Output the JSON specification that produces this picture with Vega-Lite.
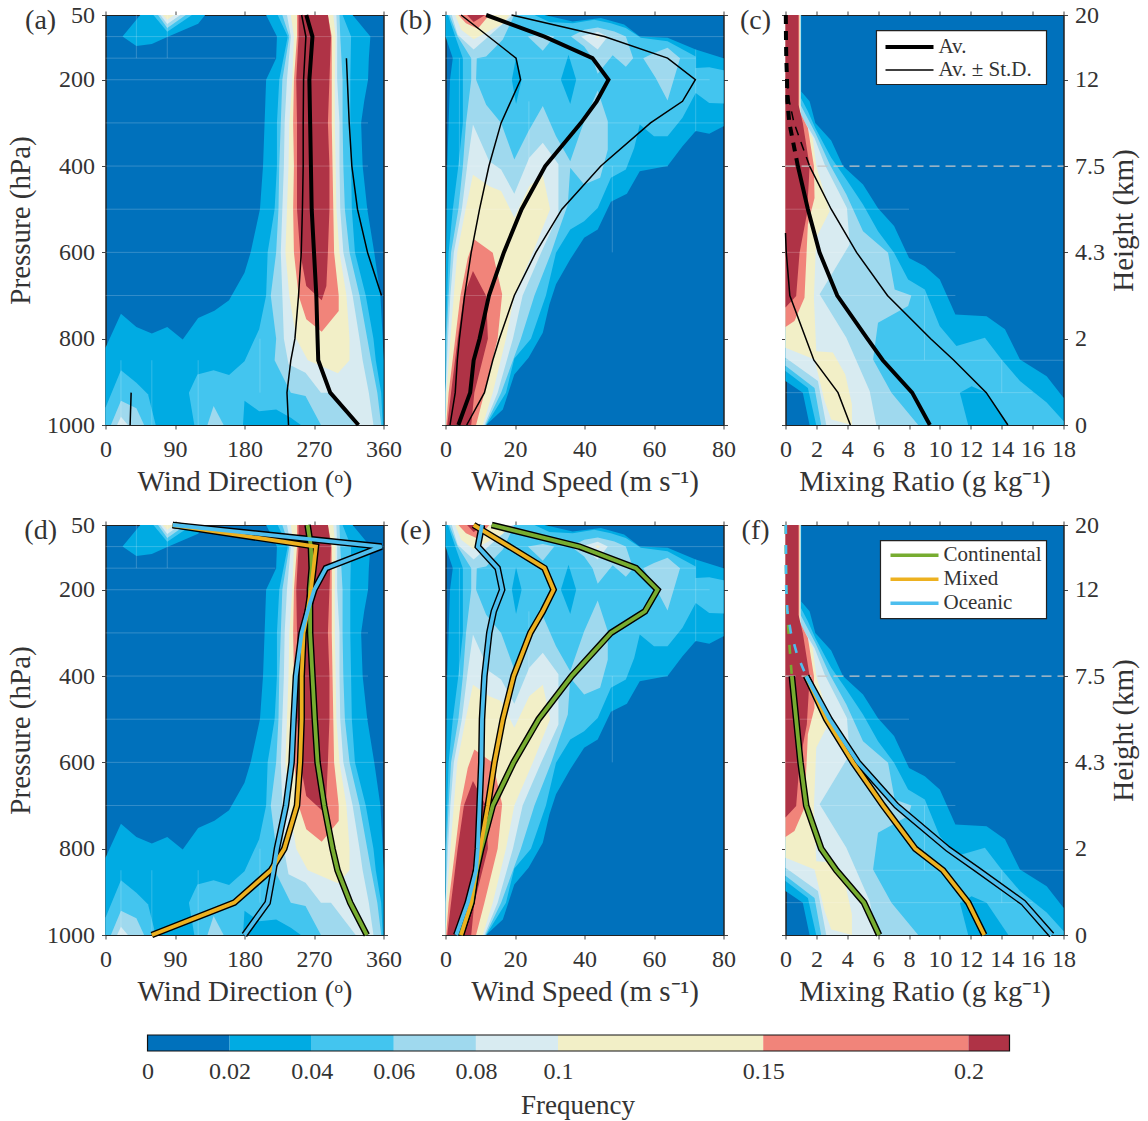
{"$schema":"https://vega.github.io/schema/vega-lite/v6.json","padding":{"left":5.5,"top":2,"right":5,"bottom":5},"background":"white",
"config":{"font":"Liberation Serif","view":{"stroke":null},"axis":{"labelFont":"Liberation Serif","titleFont":"Liberation Serif","labelFontSize":24,"titleFontSize":29,"titleFontWeight":"normal","labelColor":"#333","titleColor":"#333","tickColor":"#444","domainColor":"#222","domainWidth":1,"grid":false,"tickSize":4,"labelFlush":false,"labelOverlap":false,"format":"d"},"axisX":{"labelPadding":8,"titlePadding":6},"axisY":{"labelPadding":7,"titlePadding":11.5}},
"datasets":{
"dir":[{"g":"a","f":1,"x":208,"p":50},{"g":"a","f":1,"x":320,"p":50},{"g":"a","f":1,"x":343,"p":100},{"g":"a","f":1,"x":341,"p":150},{"g":"a","f":1,"x":340,"p":200},{"g":"a","f":1,"x":335,"p":250},{"g":"a","f":1,"x":331,"p":300},{"g":"a","f":1,"x":333,"p":400},{"g":"a","f":1,"x":339,"p":500},{"g":"a","f":1,"x":348,"p":600},{"g":"a","f":1,"x":356,"p":700},{"g":"a","f":1,"x":359,"p":800},{"g":"a","f":1,"x":360,"p":850},{"g":"a","f":1,"x":360,"p":1000},{"g":"a","f":1,"x":0,"p":1000},{"g":"a","f":1,"x":0,"p":821},{"g":"a","f":1,"x":20,"p":742},{"g":"a","f":1,"x":40,"p":773},{"g":"a","f":1,"x":60,"p":788},{"g":"a","f":1,"x":80,"p":773},{"g":"a","f":1,"x":100,"p":802},{"g":"a","f":1,"x":120,"p":752},{"g":"a","f":1,"x":141,"p":735},{"g":"a","f":1,"x":160,"p":711},{"g":"a","f":1,"x":180,"p":647},{"g":"a","f":1,"x":188,"p":600},{"g":"a","f":1,"x":200,"p":500},{"g":"a","f":1,"x":204,"p":400},{"g":"a","f":1,"x":206,"p":300},{"g":"a","f":1,"x":208,"p":200},{"g":"a","f":1,"x":221,"p":150},{"g":"a","f":1,"x":222,"p":100},
{"g":"b","f":1,"x":45,"p":50},{"g":"b","f":1,"x":22,"p":100},{"g":"b","f":1,"x":40,"p":122},{"g":"b","f":1,"x":60,"p":117},{"g":"b","f":1,"x":80,"p":101},{"g":"b","f":1,"x":120,"p":70},{"g":"b","f":1,"x":129,"p":50},
{"g":"c","f":2,"x":223,"p":50},{"g":"c","f":2,"x":236,"p":100},{"g":"c","f":2,"x":225,"p":200},{"g":"c","f":2,"x":222,"p":300},{"g":"c","f":2,"x":222,"p":400},{"g":"c","f":2,"x":219,"p":500},{"g":"c","f":2,"x":210,"p":600},{"g":"c","f":2,"x":208,"p":700},{"g":"c","f":2,"x":199,"p":778},{"g":"c","f":2,"x":180,"p":852},{"g":"c","f":2,"x":160,"p":884},{"g":"c","f":2,"x":140,"p":873},{"g":"c","f":2,"x":119,"p":883},{"g":"c","f":2,"x":108,"p":925},{"g":"c","f":2,"x":115,"p":1000},{"g":"c","f":2,"x":178,"p":1000},{"g":"c","f":2,"x":180,"p":944},{"g":"c","f":2,"x":199,"p":968},{"g":"c","f":2,"x":221,"p":964},{"g":"c","f":2,"x":240,"p":983},{"g":"c","f":2,"x":253,"p":1000},{"g":"c","f":2,"x":359,"p":1000},{"g":"c","f":2,"x":357,"p":925},{"g":"c","f":2,"x":350,"p":850},{"g":"c","f":2,"x":347,"p":800},{"g":"c","f":2,"x":337,"p":700},{"g":"c","f":2,"x":323,"p":600},{"g":"c","f":2,"x":319,"p":500},{"g":"c","f":2,"x":318,"p":400},{"g":"c","f":2,"x":317,"p":300},{"g":"c","f":2,"x":317,"p":200},{"g":"c","f":2,"x":318,"p":100},{"g":"c","f":2,"x":307,"p":50},
{"g":"d","f":2,"x":0,"p":960},{"g":"d","f":2,"x":20,"p":873},{"g":"d","f":2,"x":40,"p":902},{"g":"d","f":2,"x":55,"p":929},{"g":"d","f":2,"x":65,"p":1000},{"g":"d","f":2,"x":0,"p":1000},
{"g":"e","f":2,"x":62,"p":50},{"g":"e","f":2,"x":80,"p":89},{"g":"e","f":2,"x":112,"p":50},
{"g":"f","f":3,"x":229,"p":50},{"g":"f","f":3,"x":238,"p":100},{"g":"f","f":3,"x":229,"p":200},{"g":"f","f":3,"x":227,"p":300},{"g":"f","f":3,"x":225,"p":400},{"g":"f","f":3,"x":224,"p":500},{"g":"f","f":3,"x":221,"p":600},{"g":"f","f":3,"x":214,"p":700},{"g":"f","f":3,"x":221,"p":800},{"g":"f","f":3,"x":219,"p":850},{"g":"f","f":3,"x":240,"p":925},{"g":"f","f":3,"x":259,"p":933},{"g":"f","f":3,"x":279,"p":1000},{"g":"f","f":3,"x":357,"p":1000},{"g":"f","f":3,"x":352,"p":925},{"g":"f","f":3,"x":344,"p":850},{"g":"f","f":3,"x":339,"p":800},{"g":"f","f":3,"x":329,"p":700},{"g":"f","f":3,"x":316,"p":600},{"g":"f","f":3,"x":310,"p":500},{"g":"f","f":3,"x":308,"p":400},{"g":"f","f":3,"x":307,"p":300},{"g":"f","f":3,"x":307,"p":200},{"g":"f","f":3,"x":304,"p":100},{"g":"f","f":3,"x":303,"p":50},
{"g":"g","f":3,"x":7,"p":1000},{"g":"g","f":3,"x":20,"p":944},{"g":"g","f":3,"x":40,"p":961},{"g":"g","f":3,"x":50,"p":1000},
{"g":"h","f":3,"x":132,"p":1000},{"g":"h","f":3,"x":140,"p":956},{"g":"h","f":3,"x":153,"p":1000},
{"g":"i","f":3,"x":68,"p":50},{"g":"i","f":3,"x":80,"p":80},{"g":"i","f":3,"x":104,"p":50},
{"g":"j","f":4,"x":235,"p":50},{"g":"j","f":4,"x":240,"p":100},{"g":"j","f":4,"x":235,"p":200},{"g":"j","f":4,"x":232,"p":300},{"g":"j","f":4,"x":231,"p":400},{"g":"j","f":4,"x":229,"p":500},{"g":"j","f":4,"x":227,"p":600},{"g":"j","f":4,"x":229,"p":700},{"g":"j","f":4,"x":231,"p":800},{"g":"j","f":4,"x":237,"p":859},{"g":"j","f":4,"x":259,"p":879},{"g":"j","f":4,"x":279,"p":925},{"g":"j","f":4,"x":292,"p":925},{"g":"j","f":4,"x":324,"p":1000},{"g":"j","f":4,"x":347,"p":1000},{"g":"j","f":4,"x":341,"p":925},{"g":"j","f":4,"x":333,"p":850},{"g":"j","f":4,"x":329,"p":800},{"g":"j","f":4,"x":320,"p":700},{"g":"j","f":4,"x":308,"p":600},{"g":"j","f":4,"x":304,"p":500},{"g":"j","f":4,"x":303,"p":400},{"g":"j","f":4,"x":303,"p":300},{"g":"j","f":4,"x":300,"p":200},{"g":"j","f":4,"x":300,"p":100},{"g":"j","f":4,"x":299,"p":50},
{"g":"k","f":4,"x":15,"p":1000},{"g":"k","f":4,"x":20,"p":981},{"g":"k","f":4,"x":29,"p":1000},
{"g":"l","f":4,"x":71,"p":50},{"g":"l","f":4,"x":80,"p":71},{"g":"l","f":4,"x":97,"p":50},
{"g":"m","f":5,"x":240,"p":50},{"g":"m","f":5,"x":244,"p":100},{"g":"m","f":5,"x":242,"p":200},{"g":"m","f":5,"x":238,"p":300},{"g":"m","f":5,"x":237,"p":400},{"g":"m","f":5,"x":235,"p":500},{"g":"m","f":5,"x":233,"p":600},{"g":"m","f":5,"x":238,"p":700},{"g":"m","f":5,"x":247,"p":800},{"g":"m","f":5,"x":262,"p":850},{"g":"m","f":5,"x":301,"p":880},{"g":"m","f":5,"x":316,"p":850},{"g":"m","f":5,"x":316,"p":800},{"g":"m","f":5,"x":312,"p":700},{"g":"m","f":5,"x":303,"p":600},{"g":"m","f":5,"x":299,"p":500},{"g":"m","f":5,"x":298,"p":400},{"g":"m","f":5,"x":297,"p":300},{"g":"m","f":5,"x":297,"p":200},{"g":"m","f":5,"x":298,"p":100},{"g":"m","f":5,"x":295,"p":50},
{"g":"n","f":5,"x":74,"p":50},{"g":"n","f":5,"x":80,"p":61},{"g":"n","f":5,"x":89,"p":50},
{"g":"o","f":6,"x":248,"p":50},{"g":"o","f":6,"x":248,"p":100},{"g":"o","f":6,"x":244,"p":200},{"g":"o","f":6,"x":243,"p":300},{"g":"o","f":6,"x":244,"p":400},{"g":"o","f":6,"x":243,"p":500},{"g":"o","f":6,"x":244,"p":600},{"g":"o","f":6,"x":250,"p":700},{"g":"o","f":6,"x":260,"p":755},{"g":"o","f":6,"x":280,"p":784},{"g":"o","f":6,"x":302,"p":736},{"g":"o","f":6,"x":302,"p":700},{"g":"o","f":6,"x":296,"p":600},{"g":"o","f":6,"x":295,"p":500},{"g":"o","f":6,"x":294,"p":400},{"g":"o","f":6,"x":293,"p":300},{"g":"o","f":6,"x":293,"p":200},{"g":"o","f":6,"x":293,"p":100},{"g":"o","f":6,"x":288,"p":50},
{"g":"p","f":7,"x":250,"p":50},{"g":"p","f":7,"x":250,"p":100},{"g":"p","f":7,"x":247,"p":200},{"g":"p","f":7,"x":248,"p":300},{"g":"p","f":7,"x":248,"p":400},{"g":"p","f":7,"x":248,"p":500},{"g":"p","f":7,"x":252,"p":600},{"g":"p","f":7,"x":260,"p":678},{"g":"p","f":7,"x":280,"p":711},{"g":"p","f":7,"x":286,"p":678},{"g":"p","f":7,"x":288,"p":600},{"g":"p","f":7,"x":290,"p":500},{"g":"p","f":7,"x":290,"p":400},{"g":"p","f":7,"x":288,"p":300},{"g":"p","f":7,"x":290,"p":200},{"g":"p","f":7,"x":292,"p":100},{"g":"p","f":7,"x":288,"p":50}],
"spd":[{"g":"a","f":1,"x":0,"p":50},{"g":"a","f":1,"x":28.5,"p":50},{"g":"a","f":1,"x":36.6,"p":65},{"g":"a","f":1,"x":44.7,"p":57},{"g":"a","f":1,"x":51.4,"p":72},{"g":"a","f":1,"x":55.9,"p":100},{"g":"a","f":1,"x":63.9,"p":103},{"g":"a","f":1,"x":72,"p":130},{"g":"a","f":1,"x":80,"p":150},{"g":"a","f":1,"x":80,"p":308},{"g":"a","f":1,"x":75.9,"p":325},{"g":"a","f":1,"x":72,"p":319},{"g":"a","f":1,"x":68.2,"p":354},{"g":"a","f":1,"x":63.9,"p":400},{"g":"a","f":1,"x":55.9,"p":412},{"g":"a","f":1,"x":52.2,"p":464},{"g":"a","f":1,"x":47.6,"p":483},{"g":"a","f":1,"x":43.8,"p":547},{"g":"a","f":1,"x":39.9,"p":566},{"g":"a","f":1,"x":35.9,"p":616},{"g":"a","f":1,"x":31.8,"p":674},{"g":"a","f":1,"x":29.9,"p":721},{"g":"a","f":1,"x":28,"p":786},{"g":"a","f":1,"x":23.9,"p":844},{"g":"a","f":1,"x":19.8,"p":883},{"g":"a","f":1,"x":16.5,"p":964},{"g":"a","f":1,"x":11.7,"p":1000},{"g":"a","f":1,"x":0,"p":1000},{"g":"a","f":1,"x":0,"p":700},{"g":"a","f":1,"x":0.5,"p":400},{"g":"a","f":1,"x":1.3,"p":200},{"g":"a","f":1,"x":2.1,"p":150},{"g":"a","f":1,"x":0,"p":100},
{"g":"b","f":2,"x":0.7,"p":50},{"g":"b","f":2,"x":25.6,"p":50},{"g":"b","f":2,"x":29.9,"p":66},{"g":"b","f":2,"x":36.6,"p":69},{"g":"b","f":2,"x":42.8,"p":61},{"g":"b","f":2,"x":47.6,"p":69},{"g":"b","f":2,"x":51.9,"p":80},{"g":"b","f":2,"x":56.2,"p":103},{"g":"b","f":2,"x":63.9,"p":111},{"g":"b","f":2,"x":72,"p":146},{"g":"b","f":2,"x":72,"p":173},{"g":"b","f":2,"x":75.9,"p":171},{"g":"b","f":2,"x":80,"p":178},{"g":"b","f":2,"x":80,"p":255},{"g":"b","f":2,"x":75.9,"p":254},{"g":"b","f":2,"x":72,"p":231},{"g":"b","f":2,"x":68.2,"p":288},{"g":"b","f":2,"x":63.9,"p":331},{"g":"b","f":2,"x":60,"p":331},{"g":"b","f":2,"x":55.9,"p":304},{"g":"b","f":2,"x":54.3,"p":358},{"g":"b","f":2,"x":51.9,"p":408},{"g":"b","f":2,"x":47.6,"p":427},{"g":"b","f":2,"x":43.8,"p":497},{"g":"b","f":2,"x":39.9,"p":528},{"g":"b","f":2,"x":35.9,"p":547},{"g":"b","f":2,"x":31.8,"p":601},{"g":"b","f":2,"x":28.9,"p":700},{"g":"b","f":2,"x":24.6,"p":800},{"g":"b","f":2,"x":19.8,"p":846},{"g":"b","f":2,"x":17.4,"p":925},{"g":"b","f":2,"x":11.7,"p":1000},{"g":"b","f":2,"x":0,"p":1000},{"g":"b","f":2,"x":0,"p":800},{"g":"b","f":2,"x":0.5,"p":700},{"g":"b","f":2,"x":0.9,"p":600},{"g":"b","f":2,"x":2.1,"p":500},{"g":"b","f":2,"x":3.7,"p":400},{"g":"b","f":2,"x":5,"p":300},{"g":"b","f":2,"x":5,"p":150},{"g":"b","f":2,"x":2.8,"p":100},
{"g":"c","f":1,"x":19.1,"p":200},{"g":"c","f":1,"x":20.3,"p":148},{"g":"c","f":1,"x":21.9,"p":200},{"g":"c","f":1,"x":20.3,"p":256},
{"g":"d","f":1,"x":33.2,"p":200},{"g":"d","f":1,"x":35.4,"p":142},{"g":"d","f":1,"x":37.6,"p":200},{"g":"d","f":1,"x":35.9,"p":256},
{"g":"e","f":3,"x":1.1,"p":50},{"g":"e","f":3,"x":19.8,"p":50},{"g":"e","f":3,"x":16.5,"p":107},{"g":"e","f":3,"x":11.7,"p":146},{"g":"e","f":3,"x":9,"p":150},{"g":"e","f":3,"x":8.8,"p":200},{"g":"e","f":3,"x":11.7,"p":258},{"g":"e","f":3,"x":16,"p":300},{"g":"e","f":3,"x":19.8,"p":385},{"g":"e","f":3,"x":23.9,"p":319},{"g":"e","f":3,"x":28,"p":261},{"g":"e","f":3,"x":31.8,"p":331},{"g":"e","f":3,"x":35.9,"p":389},{"g":"e","f":3,"x":39.9,"p":296},{"g":"e","f":3,"x":43.8,"p":225},{"g":"e","f":3,"x":46.7,"p":296},{"g":"e","f":3,"x":46.7,"p":362},{"g":"e","f":3,"x":44.5,"p":427},{"g":"e","f":3,"x":39.9,"p":443},{"g":"e","f":3,"x":35.9,"p":404},{"g":"e","f":3,"x":35.2,"p":489},{"g":"e","f":3,"x":32.5,"p":551},{"g":"e","f":3,"x":30.4,"p":601},{"g":"e","f":3,"x":25.6,"p":700},{"g":"e","f":3,"x":21.7,"p":800},{"g":"e","f":3,"x":16,"p":925},{"g":"e","f":3,"x":11.5,"p":1000},{"g":"e","f":3,"x":0,"p":1000},{"g":"e","f":3,"x":0.3,"p":800},{"g":"e","f":3,"x":0.9,"p":700},{"g":"e","f":3,"x":1.6,"p":600},{"g":"e","f":3,"x":3.7,"p":500},{"g":"e","f":3,"x":5,"p":400},{"g":"e","f":3,"x":5.9,"p":300},{"g":"e","f":3,"x":7.4,"p":200},{"g":"e","f":3,"x":7.4,"p":150},{"g":"e","f":3,"x":3.5,"p":100},
{"g":"f","f":3,"x":23.7,"p":100},{"g":"f","f":3,"x":28,"p":94},{"g":"f","f":3,"x":31.3,"p":100},{"g":"f","f":3,"x":28,"p":133},
{"g":"g","f":3,"x":36.1,"p":100},{"g":"g","f":3,"x":39.9,"p":84},{"g":"g","f":3,"x":43.8,"p":79},{"g":"g","f":3,"x":48.6,"p":88},{"g":"g","f":3,"x":51.9,"p":100},{"g":"g","f":3,"x":54,"p":150},{"g":"g","f":3,"x":51.9,"p":170},{"g":"g","f":3,"x":48.1,"p":143},{"g":"g","f":3,"x":43.8,"p":186},{"g":"g","f":3,"x":42.3,"p":150},{"g":"g","f":3,"x":39.9,"p":123},
{"g":"h","f":3,"x":56.9,"p":150},{"g":"h","f":3,"x":60,"p":138},{"g":"h","f":3,"x":63.9,"p":126},{"g":"h","f":3,"x":67.5,"p":150},{"g":"h","f":3,"x":63.9,"p":248},{"g":"h","f":3,"x":60.5,"p":196},
{"g":"i","f":4,"x":7.9,"p":304},{"g":"i","f":4,"x":12.6,"p":389},{"g":"i","f":4,"x":16,"p":408},{"g":"i","f":4,"x":19.8,"p":464},{"g":"i","f":4,"x":24.1,"p":381},{"g":"i","f":4,"x":28,"p":346},{"g":"i","f":4,"x":32.5,"p":396},{"g":"i","f":4,"x":32.5,"p":512},{"g":"i","f":4,"x":27.5,"p":601},{"g":"i","f":4,"x":22.2,"p":700},{"g":"i","f":4,"x":19.4,"p":800},{"g":"i","f":4,"x":15,"p":925},{"g":"i","f":4,"x":11.2,"p":1000},{"g":"i","f":4,"x":0,"p":1000},{"g":"i","f":4,"x":0,"p":925},{"g":"i","f":4,"x":0.7,"p":800},{"g":"i","f":4,"x":1.4,"p":700},{"g":"i","f":4,"x":2.4,"p":600},{"g":"i","f":4,"x":4.7,"p":500},{"g":"i","f":4,"x":6.4,"p":389},
{"g":"j","f":4,"x":39,"p":100},{"g":"j","f":4,"x":43.8,"p":89},{"g":"j","f":4,"x":46.7,"p":100},{"g":"j","f":4,"x":43.8,"p":130},
{"g":"k","f":4,"x":1.8,"p":50},{"g":"k","f":4,"x":19.4,"p":50},{"g":"k","f":4,"x":8.1,"p":130},{"g":"k","f":4,"x":3.5,"p":96},
{"g":"l","f":5,"x":7.9,"p":420},{"g":"l","f":5,"x":12.6,"p":447},{"g":"l","f":5,"x":16,"p":458},{"g":"l","f":5,"x":19.8,"p":520},{"g":"l","f":5,"x":24.1,"p":447},{"g":"l","f":5,"x":28,"p":420},{"g":"l","f":5,"x":30.1,"p":500},{"g":"l","f":5,"x":25.1,"p":601},{"g":"l","f":5,"x":19.8,"p":700},{"g":"l","f":5,"x":17.4,"p":800},{"g":"l","f":5,"x":13.6,"p":925},{"g":"l","f":5,"x":10.7,"p":1000},{"g":"l","f":5,"x":0,"p":1000},{"g":"l","f":5,"x":0.3,"p":925},{"g":"l","f":5,"x":1.4,"p":800},{"g":"l","f":5,"x":2.4,"p":700},{"g":"l","f":5,"x":3.4,"p":600},{"g":"l","f":5,"x":5.8,"p":500},
{"g":"m","f":5,"x":2.8,"p":50},{"g":"m","f":5,"x":18.4,"p":50},{"g":"m","f":5,"x":16.5,"p":70},{"g":"m","f":5,"x":8.1,"p":106},{"g":"m","f":5,"x":4.5,"p":84},
{"g":"n","f":5,"x":43.1,"p":100},{"g":"n","f":5,"x":43.8,"p":97},{"g":"n","f":5,"x":44.5,"p":100},{"g":"n","f":5,"x":43.8,"p":104},
{"g":"o","f":6,"x":8.3,"p":570},{"g":"o","f":6,"x":13.6,"p":601},{"g":"o","f":6,"x":16.3,"p":697},{"g":"o","f":6,"x":15,"p":800},{"g":"o","f":6,"x":11.2,"p":925},{"g":"o","f":6,"x":8.8,"p":1000},{"g":"o","f":6,"x":0.2,"p":1000},{"g":"o","f":6,"x":0.9,"p":925},{"g":"o","f":6,"x":2.8,"p":800},{"g":"o","f":6,"x":4.3,"p":700},{"g":"o","f":6,"x":6.4,"p":613},
{"g":"p","f":6,"x":3.7,"p":50},{"g":"p","f":6,"x":12.6,"p":50},{"g":"p","f":6,"x":9.3,"p":82},{"g":"p","f":6,"x":5.9,"p":69},
{"g":"q","f":7,"x":7.9,"p":643},{"g":"q","f":7,"x":11.7,"p":701},{"g":"q","f":7,"x":12.2,"p":800},{"g":"q","f":7,"x":8.3,"p":925},{"g":"q","f":7,"x":7.4,"p":1000},{"g":"q","f":7,"x":0.5,"p":1000},{"g":"q","f":7,"x":1.6,"p":925},{"g":"q","f":7,"x":3.5,"p":800},{"g":"q","f":7,"x":5.3,"p":700},
{"g":"r","f":7,"x":6.2,"p":50},{"g":"r","f":7,"x":11.4,"p":50},{"g":"r","f":7,"x":8.1,"p":66}],
"mix":[{"g":"a","f":1,"x":0,"p":50},{"g":"a","f":1,"x":1.02,"p":50},{"g":"a","f":1,"x":1.02,"p":227},{"g":"a","f":1,"x":1.56,"p":250},{"g":"a","f":1,"x":1.93,"p":300},{"g":"a","f":1,"x":2.96,"p":341},{"g":"a","f":1,"x":3.72,"p":400},{"g":"a","f":1,"x":5.02,"p":443},{"g":"a","f":1,"x":5.99,"p":498},{"g":"a","f":1,"x":7.03,"p":539},{"g":"a","f":1,"x":8,"p":613},{"g":"a","f":1,"x":9.02,"p":632},{"g":"a","f":1,"x":9.99,"p":663},{"g":"a","f":1,"x":11,"p":744},{"g":"a","f":1,"x":13.02,"p":748},{"g":"a","f":1,"x":14.21,"p":778},{"g":"a","f":1,"x":15.18,"p":848},{"g":"a","f":1,"x":16.91,"p":887},{"g":"a","f":1,"x":18,"p":937},{"g":"a","f":1,"x":18,"p":1000},{"g":"a","f":1,"x":1.56,"p":1000},{"g":"a","f":1,"x":1.12,"p":925},{"g":"a","f":1,"x":0,"p":898},
{"g":"b","f":2,"x":0,"p":50},{"g":"b","f":2,"x":0.99,"p":50},{"g":"b","f":2,"x":0.99,"p":242},{"g":"b","f":2,"x":1.45,"p":273},{"g":"b","f":2,"x":1.93,"p":312},{"g":"b","f":2,"x":2.96,"p":381},{"g":"b","f":2,"x":3.94,"p":431},{"g":"b","f":2,"x":5.02,"p":489},{"g":"b","f":2,"x":5.99,"p":551},{"g":"b","f":2,"x":7.03,"p":601},{"g":"b","f":2,"x":7.94,"p":663},{"g":"b","f":2,"x":9.02,"p":686},{"g":"b","f":2,"x":9.99,"p":771},{"g":"b","f":2,"x":11.07,"p":817},{"g":"b","f":2,"x":12.91,"p":798},{"g":"b","f":2,"x":13.99,"p":848},{"g":"b","f":2,"x":15.18,"p":898},{"g":"b","f":2,"x":16.91,"p":948},{"g":"b","f":2,"x":18,"p":991},{"g":"b","f":2,"x":18,"p":1000},{"g":"b","f":2,"x":1.99,"p":1000},{"g":"b","f":2,"x":1.45,"p":914},{"g":"b","f":2,"x":0,"p":875},
{"g":"c","f":1,"x":11.29,"p":925},{"g":"c","f":1,"x":12.05,"p":910},{"g":"c","f":1,"x":13.02,"p":925},{"g":"c","f":1,"x":14.43,"p":1000},{"g":"c","f":1,"x":11.83,"p":1000},
{"g":"d","f":3,"x":0,"p":50},{"g":"d","f":3,"x":0.97,"p":50},{"g":"d","f":3,"x":0.97,"p":258},{"g":"d","f":3,"x":1.93,"p":323},{"g":"d","f":3,"x":2.86,"p":396},{"g":"d","f":3,"x":3.94,"p":466},{"g":"d","f":3,"x":5.02,"p":551},{"g":"d","f":3,"x":6.64,"p":601},{"g":"d","f":3,"x":7.07,"p":686},{"g":"d","f":3,"x":8.15,"p":700},{"g":"d","f":3,"x":7.94,"p":724},{"g":"d","f":3,"x":5.99,"p":763},{"g":"d","f":3,"x":5.67,"p":848},{"g":"d","f":3,"x":6.86,"p":925},{"g":"d","f":3,"x":8.59,"p":1000},{"g":"d","f":3,"x":2.31,"p":1000},{"g":"d","f":3,"x":1.88,"p":914},{"g":"d","f":3,"x":0,"p":863},
{"g":"e","f":4,"x":0,"p":50},{"g":"e","f":4,"x":0.97,"p":50},{"g":"e","f":4,"x":0.97,"p":281},{"g":"e","f":4,"x":1.88,"p":335},{"g":"e","f":4,"x":2.53,"p":396},{"g":"e","f":4,"x":3.98,"p":497},{"g":"e","f":4,"x":4.15,"p":582},{"g":"e","f":4,"x":2.21,"p":697},{"g":"e","f":4,"x":3.94,"p":798},{"g":"e","f":4,"x":5.45,"p":921},{"g":"e","f":4,"x":5.88,"p":1000},{"g":"e","f":4,"x":2.64,"p":1000},{"g":"e","f":4,"x":2.1,"p":898},{"g":"e","f":4,"x":0,"p":844},
{"g":"f","f":5,"x":0,"p":50},{"g":"f","f":5,"x":0.95,"p":50},{"g":"f","f":5,"x":0.95,"p":288},{"g":"f","f":5,"x":1.77,"p":335},{"g":"f","f":5,"x":1.99,"p":400},{"g":"f","f":5,"x":2.86,"p":505},{"g":"f","f":5,"x":1.99,"p":566},{"g":"f","f":5,"x":1.84,"p":705},{"g":"f","f":5,"x":1.99,"p":829},{"g":"f","f":5,"x":3.07,"p":832},{"g":"f","f":5,"x":3.87,"p":883},{"g":"f","f":5,"x":4.3,"p":952},{"g":"f","f":5,"x":4.3,"p":1000},{"g":"f","f":5,"x":2.96,"p":987},{"g":"f","f":5,"x":2.53,"p":944},{"g":"f","f":5,"x":1.88,"p":848},{"g":"f","f":5,"x":0,"p":821},
{"g":"g","f":6,"x":0,"p":50},{"g":"g","f":6,"x":0.89,"p":50},{"g":"g","f":6,"x":0.89,"p":273},{"g":"g","f":6,"x":1.45,"p":312},{"g":"g","f":6,"x":1.84,"p":400},{"g":"g","f":6,"x":1.88,"p":474},{"g":"g","f":6,"x":1.45,"p":535},{"g":"g","f":6,"x":1.23,"p":705},{"g":"g","f":6,"x":0.58,"p":759},{"g":"g","f":6,"x":0,"p":773},
{"g":"h","f":7,"x":0,"p":50},{"g":"h","f":7,"x":0.84,"p":50},{"g":"h","f":7,"x":0.84,"p":258},{"g":"h","f":7,"x":1.12,"p":300},{"g":"h","f":7,"x":1.56,"p":400},{"g":"h","f":7,"x":1.51,"p":435},{"g":"h","f":7,"x":1.38,"p":512},{"g":"h","f":7,"x":0.91,"p":601},{"g":"h","f":7,"x":0.69,"p":701},{"g":"h","f":7,"x":0,"p":728}],
"sDir":[{"a":0,"b":360,"c":100,"d":100},{"a":0,"b":220,"c":150,"d":150},{"a":0,"b":340,"c":200,"d":200},{"a":0,"b":340,"c":300,"d":300},{"a":0,"b":340,"c":400,"d":400},{"a":0,"b":340,"c":500,"d":500},{"a":0,"b":360,"c":600,"d":600},{"a":0,"b":360,"c":700,"d":700},{"a":40,"b":40,"c":50,"d":150},{"a":80,"b":80,"c":50,"d":150},{"a":20,"b":20,"c":850,"d":1000},{"a":60,"b":60,"c":850,"d":1000},{"a":120,"b":120,"c":850,"d":1000},{"a":200,"b":200,"c":800,"d":925}],
"sSpd":[{"a":0,"b":80,"c":100,"d":100},{"a":0,"b":72,"c":150,"d":150},{"a":0,"b":76,"c":200,"d":200},{"a":0,"b":80,"c":300,"d":300},{"a":0,"b":64,"c":400,"d":400},{"a":0,"b":28,"c":500,"d":500},{"a":0,"b":20,"c":700,"d":700},{"a":48,"b":48,"c":400,"d":600},{"a":24,"b":24,"c":250,"d":400},{"a":72,"b":72,"c":130,"d":320},{"a":4,"b":4,"c":150,"d":400}],
"sMix":[{"a":0,"b":8,"c":500,"d":500},{"a":0,"b":11,"c":600,"d":600},{"a":2,"b":11,"c":700,"d":700},{"a":0,"b":16,"c":925,"d":925},{"a":9,"b":9,"c":700,"d":850},{"a":14,"b":14,"c":850,"d":925},{"a":0,"b":18,"c":850,"d":850}],
"lnA":[{"s":"av","k":"Av.","x":260,"p":50},{"s":"av","k":"Av.","x":268,"p":100},{"s":"av","k":"Av.","x":264,"p":200},{"s":"av","k":"Av.","x":265,"p":300},{"s":"av","k":"Av.","x":266,"p":400},{"s":"av","k":"Av.","x":267,"p":500},{"s":"av","k":"Av.","x":270,"p":600},{"s":"av","k":"Av.","x":273,"p":700},{"s":"av","k":"Av.","x":274.6,"p":800},{"s":"av","k":"Av.","x":275.5,"p":850},{"s":"av","k":"Av.","x":291,"p":925},{"s":"av","k":"Av.","x":327.6,"p":1000},
{"s":"lo","k":"Av. ± St.D.","x":254,"p":50},{"s":"lo","k":"Av. ± St.D.","x":259.5,"p":100},{"s":"lo","k":"Av. ± St.D.","x":256.5,"p":200},{"s":"lo","k":"Av. ± St.D.","x":256,"p":300},{"s":"lo","k":"Av. ± St.D.","x":256,"p":400},{"s":"lo","k":"Av. ± St.D.","x":255,"p":500},{"s":"lo","k":"Av. ± St.D.","x":253.5,"p":600},{"s":"lo","k":"Av. ± St.D.","x":250,"p":700},{"s":"lo","k":"Av. ± St.D.","x":245.3,"p":800},{"s":"lo","k":"Av. ± St.D.","x":240,"p":850},{"s":"lo","k":"Av. ± St.D.","x":235,"p":925},{"s":"lo","k":"Av. ± St.D.","x":237,"p":1000},
{"s":"up","k":"Av. ± St.D.","x":312,"p":150},{"s":"up","k":"Av. ± St.D.","x":315.6,"p":300},{"s":"up","k":"Av. ± St.D.","x":319,"p":400},{"s":"up","k":"Av. ± St.D.","x":326.3,"p":500},{"s":"up","k":"Av. ± St.D.","x":339.3,"p":600},{"s":"up","k":"Av. ± St.D.","x":357.4,"p":700},
{"s":"up2","k":"Av. ± St.D.","x":33.2,"p":925},{"s":"up2","k":"Av. ± St.D.","x":31.9,"p":1000}],
"lnB":[{"s":"av","k":"Av.","x":11.7,"p":50},{"s":"av","k":"Av.","x":28.5,"p":100},{"s":"av","k":"Av.","x":42.3,"p":150},{"s":"av","k":"Av.","x":46.9,"p":200},{"s":"av","k":"Av.","x":43.5,"p":250},{"s":"av","k":"Av.","x":39,"p":300},{"s":"av","k":"Av.","x":28.7,"p":400},{"s":"av","k":"Av.","x":21.9,"p":500},{"s":"av","k":"Av.","x":16.8,"p":600},{"s":"av","k":"Av.","x":12.5,"p":700},{"s":"av","k":"Av.","x":9.8,"p":800},{"s":"av","k":"Av.","x":8.1,"p":850},{"s":"av","k":"Av.","x":7.1,"p":925},{"s":"av","k":"Av.","x":3.7,"p":1000},
{"s":"lo","k":"Av. ± St.D.","x":4.5,"p":50},{"s":"lo","k":"Av. ± St.D.","x":20.3,"p":150},{"s":"lo","k":"Av. ± St.D.","x":21.6,"p":200},{"s":"lo","k":"Av. ± St.D.","x":16,"p":300},{"s":"lo","k":"Av. ± St.D.","x":12.5,"p":400},{"s":"lo","k":"Av. ± St.D.","x":9.8,"p":500},{"s":"lo","k":"Av. ± St.D.","x":7.4,"p":600},{"s":"lo","k":"Av. ± St.D.","x":5.5,"p":700},{"s":"lo","k":"Av. ± St.D.","x":4,"p":800},{"s":"lo","k":"Av. ± St.D.","x":3.4,"p":850},{"s":"lo","k":"Av. ± St.D.","x":2.8,"p":925},{"s":"lo","k":"Av. ± St.D.","x":1.3,"p":1000},
{"s":"up","k":"Av. ± St.D.","x":19,"p":50},{"s":"up","k":"Av. ± St.D.","x":45.7,"p":100},{"s":"up","k":"Av. ± St.D.","x":63.9,"p":150},{"s":"up","k":"Av. ± St.D.","x":71.9,"p":200},{"s":"up","k":"Av. ± St.D.","x":68.2,"p":250},{"s":"up","k":"Av. ± St.D.","x":59,"p":300},{"s":"up","k":"Av. ± St.D.","x":44.7,"p":400},{"s":"up","k":"Av. ± St.D.","x":33.5,"p":500},{"s":"up","k":"Av. ± St.D.","x":26,"p":600},{"s":"up","k":"Av. ± St.D.","x":19.8,"p":700},{"s":"up","k":"Av. ± St.D.","x":15.5,"p":800},{"s":"up","k":"Av. ± St.D.","x":13.6,"p":850},{"s":"up","k":"Av. ± St.D.","x":11.2,"p":925},{"s":"up","k":"Av. ± St.D.","x":6.1,"p":1000}],
"lnC":[{"s":"av","k":"Av.","x":0.8,"p":400},{"s":"av","k":"Av.","x":1.45,"p":500},{"s":"av","k":"Av.","x":2.2,"p":600},{"s":"av","k":"Av.","x":3.35,"p":700},{"s":"av","k":"Av.","x":5.3,"p":800},{"s":"av","k":"Av.","x":6.3,"p":850},{"s":"av","k":"Av.","x":8.2,"p":925},{"s":"av","k":"Av.","x":9.35,"p":1000},
{"s":"lo","k":"Av. ± St.D.","x":0,"p":555},{"s":"lo","k":"Av. ± St.D.","x":0.05,"p":600},{"s":"lo","k":"Av. ± St.D.","x":0.28,"p":700},{"s":"lo","k":"Av. ± St.D.","x":1.84,"p":850},{"s":"lo","k":"Av. ± St.D.","x":3.4,"p":925},{"s":"lo","k":"Av. ± St.D.","x":4.2,"p":1000},
{"s":"up","k":"Av. ± St.D.","x":1.56,"p":400},{"s":"up","k":"Av. ± St.D.","x":2.96,"p":500},{"s":"up","k":"Av. ± St.D.","x":4.6,"p":600},{"s":"up","k":"Av. ± St.D.","x":6.6,"p":700},{"s":"up","k":"Av. ± St.D.","x":9.4,"p":800},{"s":"up","k":"Av. ± St.D.","x":10.9,"p":850},{"s":"up","k":"Av. ± St.D.","x":13,"p":925},{"s":"up","k":"Av. ± St.D.","x":14.4,"p":1000}],
"dashCav":[{"x":0.02,"p":50},{"x":0.03,"p":100},{"x":0.05,"p":150},{"x":0.1,"p":200},{"x":0.12,"p":250},{"x":0.25,"p":300},{"x":0.8,"p":400}],
"dashCup":[{"x":0.1,"p":200},{"x":0.25,"p":250},{"x":0.55,"p":300},{"x":1.56,"p":400}],
"lnD":[{"s":"Continental","x":261.7,"p":50},{"s":"Continental","x":266,"p":100},{"s":"Continental","x":267,"p":150},{"s":"Continental","x":264.7,"p":200},{"s":"Continental","x":265,"p":300},{"s":"Continental","x":268,"p":400},{"s":"Continental","x":271,"p":500},{"s":"Continental","x":274.6,"p":600},{"s":"Continental","x":283.2,"p":700},{"s":"Continental","x":294,"p":800},{"s":"Continental","x":300.5,"p":850},{"s":"Continental","x":316.9,"p":925},{"s":"Continental","x":338.4,"p":1000},
{"s":"Mixed","x":87,"p":50},{"s":"Mixed","x":272.5,"p":100},{"s":"Mixed","x":269.4,"p":150},{"s":"Mixed","x":266,"p":200},{"s":"Mixed","x":261.7,"p":250},{"s":"Mixed","x":256.5,"p":300},{"s":"Mixed","x":254,"p":400},{"s":"Mixed","x":254,"p":500},{"s":"Mixed","x":252,"p":600},{"s":"Mixed","x":248,"p":700},{"s":"Mixed","x":231.5,"p":800},{"s":"Mixed","x":214.3,"p":850},{"s":"Mixed","x":166.8,"p":925},{"s":"Mixed","x":60,"p":1000},
{"s":"Oceanic","x":87,"p":50},{"s":"Oceanic","x":357.4,"p":100},{"s":"Oceanic","x":285.4,"p":150},{"s":"Oceanic","x":270.3,"p":200},{"s":"Oceanic","x":261.7,"p":250},{"s":"Oceanic","x":254,"p":300},{"s":"Oceanic","x":246.6,"p":400},{"s":"Oceanic","x":243.6,"p":500},{"s":"Oceanic","x":241,"p":600},{"s":"Oceanic","x":233.7,"p":700},{"s":"Oceanic","x":222,"p":800},{"s":"Oceanic","x":217.7,"p":850},{"s":"Oceanic","x":210,"p":925},{"s":"Oceanic","x":179.8,"p":1000}],
"lnE":[{"s":"Continental","x":13.3,"p":50},{"s":"Continental","x":38.5,"p":100},{"s":"Continental","x":54.8,"p":150},{"s":"Continental","x":61,"p":200},{"s":"Continental","x":57.4,"p":250},{"s":"Continental","x":47.6,"p":300},{"s":"Continental","x":36.3,"p":400},{"s":"Continental","x":26.8,"p":500},{"s":"Continental","x":19.6,"p":600},{"s":"Continental","x":13.6,"p":700},{"s":"Continental","x":10.3,"p":800},{"s":"Continental","x":8.9,"p":850},{"s":"Continental","x":7.5,"p":925},{"s":"Continental","x":4.3,"p":1000},
{"s":"Mixed","x":8.1,"p":50},{"s":"Mixed","x":18.4,"p":100},{"s":"Mixed","x":28.5,"p":150},{"s":"Mixed","x":31.1,"p":200},{"s":"Mixed","x":28,"p":250},{"s":"Mixed","x":24.4,"p":300},{"s":"Mixed","x":19.6,"p":400},{"s":"Mixed","x":16.5,"p":500},{"s":"Mixed","x":14.1,"p":600},{"s":"Mixed","x":12.2,"p":700},{"s":"Mixed","x":10,"p":800},{"s":"Mixed","x":8.8,"p":850},{"s":"Mixed","x":7.4,"p":925},{"s":"Mixed","x":4.5,"p":1000},
{"s":"Oceanic","x":10.5,"p":50},{"s":"Oceanic","x":9.3,"p":100},{"s":"Oceanic","x":15,"p":150},{"s":"Oceanic","x":16.3,"p":200},{"s":"Oceanic","x":13.9,"p":250},{"s":"Oceanic","x":12.6,"p":300},{"s":"Oceanic","x":11.2,"p":400},{"s":"Oceanic","x":10.5,"p":500},{"s":"Oceanic","x":10.3,"p":600},{"s":"Oceanic","x":9.8,"p":700},{"s":"Oceanic","x":9.3,"p":800},{"s":"Oceanic","x":8.8,"p":850},{"s":"Oceanic","x":6.4,"p":925},{"s":"Oceanic","x":3.1,"p":1000}],
"lnF":[{"s":"Continental","x":0.41,"p":400},{"s":"Continental","x":0.69,"p":500},{"s":"Continental","x":0.97,"p":600},{"s":"Continental","x":1.34,"p":700},{"s":"Continental","x":2.31,"p":800},{"s":"Continental","x":3.29,"p":850},{"s":"Continental","x":5.08,"p":925},{"s":"Continental","x":6.06,"p":1000},
{"s":"Mixed","x":1.34,"p":400},{"s":"Mixed","x":2.64,"p":500},{"s":"Mixed","x":4.37,"p":600},{"s":"Mixed","x":6.32,"p":700},{"s":"Mixed","x":8.4,"p":800},{"s":"Mixed","x":10.2,"p":850},{"s":"Mixed","x":11.83,"p":925},{"s":"Mixed","x":12.87,"p":1000},
{"s":"Oceanic","x":1.34,"p":400},{"s":"Oceanic","x":2.86,"p":500},{"s":"Oceanic","x":4.69,"p":600},{"s":"Oceanic","x":7.18,"p":700},{"s":"Oceanic","x":10.5,"p":800},{"s":"Oceanic","x":12.48,"p":850},{"s":"Oceanic","x":15.4,"p":925},{"s":"Oceanic","x":17.24,"p":1000}],
"dashFc":[{"x":0.02,"p":50},{"x":0.02,"p":100},{"x":0.05,"p":200},{"x":0.1,"p":250},{"x":0.2,"p":300},{"x":0.3,"p":350},{"x":0.41,"p":400}],
"dashFo":[{"x":0.02,"p":50},{"x":0.03,"p":100},{"x":0.03,"p":150},{"x":0.05,"p":200},{"x":0.12,"p":250},{"x":0.35,"p":300},{"x":0.75,"p":350},{"x":1.34,"p":400}]
},
"spacing":14,
"resolve":{"scale":{"stroke":"independent","strokeWidth":"independent"},"legend":{"stroke":"independent","strokeWidth":"independent"}},
"vconcat":[
{"bounds":"flush","spacing":62,"resolve":{"scale":{"stroke":"independent","strokeWidth":"independent"},"legend":{"stroke":"independent","strokeWidth":"independent"}},"hconcat":[
{"width":278,"height":410,"view":{"fill":"#0071BC","stroke":"#222"},"resolve":{"axis":{"x":"independent","y":"independent"}},"layer":[
{"data":{"name":"dir"},"transform":[{"window":[{"op":"row_number","as":"i"}]}],"mark":{"type":"line","filled":true,"strokeWidth":0},"encoding":{"order":{"field":"i","type":"quantitative"},"detail":{"field":"g"},"fill":{"field":"f","type":"ordinal","legend":null,"scale":{"domain":[0,1,2,3,4,5,6,7],"range":["#0071BC","#00ABE3","#43C5EF","#9FD9EE","#D8EBF1","#F2EFC7","#F1847A","#AF3346"]}},"x":{"field":"x","type":"quantitative","scale":{"domain":[0,360],"nice":false,"zero":false},"axis":{"values":[0,90,180,270,360],"title":"Wind Direction (ᵒ)","orient":"bottom"}},"y":{"field":"p","type":"quantitative","scale":{"domain":[50,1000],"reverse":true,"nice":false,"zero":false},"axis":{"values":[50,200,400,600,800,1000],"title":"Pressure (hPa)","orient":"left"}}}},
{"data":{"name":"sDir"},"mark":{"type":"rule","color":"white","opacity":0.2,"strokeWidth":1},"encoding":{"x":{"field":"a","type":"quantitative","scale":{"domain":[0,360],"nice":false,"zero":false},"axis":{"values":[0,90,180,270,360],"labels":false,"title":null,"orient":"top"}},"x2":{"field":"b"},"y":{"field":"c","type":"quantitative","scale":{"domain":[50,1000],"reverse":true,"nice":false,"zero":false},"axis":{"values":[50,200,400,600,800,1000],"labels":false,"title":null,"orient":"right"}},"y2":{"field":"d"}}},
{"data":{"name":"lnA"},"transform":[{"window":[{"op":"row_number","as":"i"}]}],"mark":{"type":"line","color":"black","strokeCap":"butt"},"encoding":{"order":{"field":"i","type":"quantitative"},"detail":{"field":"s"},"strokeWidth":{"field":"k","type":"nominal","legend":null,"scale":{"domain":["Av.","Av. ± St.D."],"range":[4,1.5]}},"x":{"field":"x","type":"quantitative","axis":null,"scale":{"domain":[0,360],"nice":false,"zero":false}},"y":{"field":"p","type":"quantitative","axis":null,"scale":{"domain":[50,1000],"reverse":true,"nice":false,"zero":false}}}},
{"data":{"values":[{"t":"(a)","x":-84,"p":65}]},"mark":{"type":"text","fontSize":28,"color":"#333","font":"Liberation Serif"},"encoding":{"text":{"field":"t"},"x":{"field":"x","type":"quantitative","axis":null,"scale":{"domain":[0,360],"nice":false,"zero":false}},"y":{"field":"p","type":"quantitative","axis":null,"scale":{"domain":[50,1000],"reverse":true,"nice":false,"zero":false}}}}]},
{"width":278,"height":410,"view":{"fill":"#0071BC","stroke":"#222"},"resolve":{"axis":{"x":"independent","y":"independent"}},"layer":[
{"data":{"name":"spd"},"transform":[{"window":[{"op":"row_number","as":"i"}]}],"mark":{"type":"line","filled":true,"strokeWidth":0},"encoding":{"order":{"field":"i","type":"quantitative"},"detail":{"field":"g"},"fill":{"field":"f","type":"ordinal","legend":null,"scale":{"domain":[0,1,2,3,4,5,6,7],"range":["#0071BC","#00ABE3","#43C5EF","#9FD9EE","#D8EBF1","#F2EFC7","#F1847A","#AF3346"]}},"x":{"field":"x","type":"quantitative","scale":{"domain":[0,80],"nice":false,"zero":false},"axis":{"values":[0,20,40,60,80],"title":"Wind Speed (m s⁻¹)","orient":"bottom"}},"y":{"field":"p","type":"quantitative","scale":{"domain":[50,1000],"reverse":true,"nice":false,"zero":false},"axis":{"values":[50,200,400,600,800,1000],"labels":false,"title":null,"orient":"left"}}}},
{"data":{"name":"sSpd"},"mark":{"type":"rule","color":"white","opacity":0.2,"strokeWidth":1},"encoding":{"x":{"field":"a","type":"quantitative","scale":{"domain":[0,80],"nice":false,"zero":false},"axis":{"values":[0,20,40,60,80],"labels":false,"title":null,"orient":"top"}},"x2":{"field":"b"},"y":{"field":"c","type":"quantitative","scale":{"domain":[50,1000],"reverse":true,"nice":false,"zero":false},"axis":{"values":[50,200,400,600,800,1000],"labels":false,"title":null,"orient":"right"}},"y2":{"field":"d"}}},
{"data":{"name":"lnB"},"transform":[{"window":[{"op":"row_number","as":"i"}]}],"mark":{"type":"line","color":"black","strokeCap":"butt"},"encoding":{"order":{"field":"i","type":"quantitative"},"detail":{"field":"s"},"strokeWidth":{"field":"k","type":"nominal","legend":null,"scale":{"domain":["Av.","Av. ± St.D."],"range":[4,1.5]}},"x":{"field":"x","type":"quantitative","axis":null,"scale":{"domain":[0,80],"nice":false,"zero":false}},"y":{"field":"p","type":"quantitative","axis":null,"scale":{"domain":[50,1000],"reverse":true,"nice":false,"zero":false}}}},
{"data":{"values":[{"t":"(b)","x":-8.6,"p":65}]},"mark":{"type":"text","fontSize":28,"color":"#333","font":"Liberation Serif"},"encoding":{"text":{"field":"t"},"x":{"field":"x","type":"quantitative","axis":null,"scale":{"domain":[0,80],"nice":false,"zero":false}},"y":{"field":"p","type":"quantitative","axis":null,"scale":{"domain":[50,1000],"reverse":true,"nice":false,"zero":false}}}}]},
{"width":278,"height":410,"view":{"fill":"#0071BC","stroke":"#222"},"resolve":{"axis":{"x":"independent","y":"independent"}},"layer":[
{"data":{"name":"mix"},"transform":[{"window":[{"op":"row_number","as":"i"}]}],"mark":{"type":"line","filled":true,"strokeWidth":0},"encoding":{"order":{"field":"i","type":"quantitative"},"detail":{"field":"g"},"fill":{"field":"f","type":"ordinal","legend":null,"scale":{"domain":[0,1,2,3,4,5,6,7],"range":["#0071BC","#00ABE3","#43C5EF","#9FD9EE","#D8EBF1","#F2EFC7","#F1847A","#AF3346"]}},"x":{"field":"x","type":"quantitative","scale":{"domain":[0,18],"nice":false,"zero":false},"axis":{"values":[0,2,4,6,8,10,12,14,16,18],"title":"Mixing Ratio (g kg⁻¹)","orient":"bottom"}},"y":{"field":"p","type":"quantitative","scale":{"domain":[50,1000],"reverse":true,"nice":false,"zero":false},"axis":{"values":[50,200,400,600,800,1000],"labels":false,"title":null,"orient":"left"}}}},
{"data":{"name":"sMix"},"mark":{"type":"rule","color":"white","opacity":0.2,"strokeWidth":1},"encoding":{"x":{"field":"a","type":"quantitative","scale":{"domain":[0,18],"nice":false,"zero":false},"axis":{"values":[0,2,4,6,8,10,12,14,16,18],"labels":false,"title":null,"orient":"top"}},"x2":{"field":"b"},"y":{"field":"c","type":"quantitative","scale":{"domain":[50,1000],"reverse":true,"nice":false,"zero":false},"axis":{"values":[50,200,400,600,800,1000],"title":"Height (km)","titleAngle":270,"titlePadding":34,"labelPadding":7,"orient":"right","labelExpr":"datum.value==50?'20':datum.value==200?'12':datum.value==400?'7.5':datum.value==600?'4.3':datum.value==800?'2':'0'"}},"y2":{"field":"d"}}},
{"data":{"values":[{"a":0,"b":18,"p":400}]},"mark":{"type":"rule","color":"#C8C8C8","strokeDash":[10,6],"strokeWidth":1.2},"encoding":{"x":{"field":"a","type":"quantitative","axis":null,"scale":{"domain":[0,18],"nice":false,"zero":false}},"x2":{"field":"b"},"y":{"field":"p","type":"quantitative","axis":null,"scale":{"domain":[50,1000],"reverse":true,"nice":false,"zero":false}}}},
{"data":{"name":"dashCav"},"transform":[{"window":[{"op":"row_number","as":"i"}]}],"mark":{"type":"line","color":"black","strokeWidth":4,"strokeDash":[9,7],"strokeCap":"butt"},"encoding":{"order":{"field":"i","type":"quantitative"},"x":{"field":"x","type":"quantitative","axis":null,"scale":{"domain":[0,18],"nice":false,"zero":false}},"y":{"field":"p","type":"quantitative","axis":null,"scale":{"domain":[50,1000],"reverse":true,"nice":false,"zero":false}}}},
{"data":{"name":"dashCup"},"transform":[{"window":[{"op":"row_number","as":"i"}]}],"mark":{"type":"line","color":"black","strokeWidth":1.5,"strokeDash":[9,7],"strokeCap":"butt"},"encoding":{"order":{"field":"i","type":"quantitative"},"x":{"field":"x","type":"quantitative","axis":null,"scale":{"domain":[0,18],"nice":false,"zero":false}},"y":{"field":"p","type":"quantitative","axis":null,"scale":{"domain":[50,1000],"reverse":true,"nice":false,"zero":false}}}},
{"data":{"values":[{"a":5.89,"b":16.9,"c":86,"d":211}]},"mark":{"type":"rect","fill":"white","stroke":"#222","strokeWidth":1.2},"encoding":{"x":{"field":"a","type":"quantitative","axis":null,"scale":{"domain":[0,18],"nice":false,"zero":false}},"x2":{"field":"b"},"y":{"field":"c","type":"quantitative","axis":null,"scale":{"domain":[50,1000],"reverse":true,"nice":false,"zero":false}},"y2":{"field":"d"}}},
{"data":{"name":"lnC"},"transform":[{"window":[{"op":"row_number","as":"i"}]}],"mark":{"type":"line","color":"black","strokeCap":"butt"},"encoding":{"order":{"field":"i","type":"quantitative"},"detail":{"field":"s"},"strokeWidth":{"field":"k","type":"nominal","scale":{"domain":["Av.","Av. ± St.D."],"range":[4,1.5]},"legend":{"orient":"none","legendX":110,"legendY":18,"zindex":1,"title":null,"symbolType":"M-2,0L2,0","symbolSize":576,"symbolStrokeColor":"black","labelFont":"Liberation Serif","labelFontSize":21,"labelColor":"#333","labelOffset":15,"padding":0,"rowPadding":0}},"x":{"field":"x","type":"quantitative","axis":null,"scale":{"domain":[0,18],"nice":false,"zero":false}},"y":{"field":"p","type":"quantitative","axis":null,"scale":{"domain":[50,1000],"reverse":true,"nice":false,"zero":false}}}},
{"data":{"values":[{"t":"(c)","x":-1.94,"p":65}]},"mark":{"type":"text","fontSize":28,"color":"#333","font":"Liberation Serif"},"encoding":{"text":{"field":"t"},"x":{"field":"x","type":"quantitative","axis":null,"scale":{"domain":[0,18],"nice":false,"zero":false}},"y":{"field":"p","type":"quantitative","axis":null,"scale":{"domain":[50,1000],"reverse":true,"nice":false,"zero":false}}}}]}
]},
{"bounds":"flush","spacing":62,"resolve":{"scale":{"stroke":"independent","strokeWidth":"independent"},"legend":{"stroke":"independent","strokeWidth":"independent"}},"hconcat":[
{"width":278,"height":410,"view":{"fill":"#0071BC","stroke":"#222"},"resolve":{"axis":{"x":"independent","y":"independent"}},"layer":[
{"data":{"name":"dir"},"transform":[{"window":[{"op":"row_number","as":"i"}]}],"mark":{"type":"line","filled":true,"strokeWidth":0},"encoding":{"order":{"field":"i","type":"quantitative"},"detail":{"field":"g"},"fill":{"field":"f","type":"ordinal","legend":null,"scale":{"domain":[0,1,2,3,4,5,6,7],"range":["#0071BC","#00ABE3","#43C5EF","#9FD9EE","#D8EBF1","#F2EFC7","#F1847A","#AF3346"]}},"x":{"field":"x","type":"quantitative","scale":{"domain":[0,360],"nice":false,"zero":false},"axis":{"values":[0,90,180,270,360],"title":"Wind Direction (ᵒ)","orient":"bottom"}},"y":{"field":"p","type":"quantitative","scale":{"domain":[50,1000],"reverse":true,"nice":false,"zero":false},"axis":{"values":[50,200,400,600,800,1000],"title":"Pressure (hPa)","orient":"left"}}}},
{"data":{"name":"sDir"},"mark":{"type":"rule","color":"white","opacity":0.2,"strokeWidth":1},"encoding":{"x":{"field":"a","type":"quantitative","scale":{"domain":[0,360],"nice":false,"zero":false},"axis":{"values":[0,90,180,270,360],"labels":false,"title":null,"orient":"top"}},"x2":{"field":"b"},"y":{"field":"c","type":"quantitative","scale":{"domain":[50,1000],"reverse":true,"nice":false,"zero":false},"axis":{"values":[50,200,400,600,800,1000],"labels":false,"title":null,"orient":"right"}},"y2":{"field":"d"}}},
{"data":{"name":"lnD"},"transform":[{"window":[{"op":"row_number","as":"i"}]}],"mark":{"type":"line","color":"black","strokeWidth":6.6,"strokeCap":"butt"},"encoding":{"order":{"field":"i","type":"quantitative"},"detail":{"field":"s"},"x":{"field":"x","type":"quantitative","axis":null,"scale":{"domain":[0,360],"nice":false,"zero":false}},"y":{"field":"p","type":"quantitative","axis":null,"scale":{"domain":[50,1000],"reverse":true,"nice":false,"zero":false}}}},
{"data":{"name":"lnD"},"transform":[{"window":[{"op":"row_number","as":"i"}]}],"mark":{"type":"line","strokeWidth":3.8,"strokeCap":"butt"},"encoding":{"order":{"field":"i","type":"quantitative"},"stroke":{"field":"s","type":"nominal","legend":null,"scale":{"domain":["Continental","Mixed","Oceanic"],"range":["#77AC30","#EDB120","#4DBEEE"]}},"x":{"field":"x","type":"quantitative","axis":null,"scale":{"domain":[0,360],"nice":false,"zero":false}},"y":{"field":"p","type":"quantitative","axis":null,"scale":{"domain":[50,1000],"reverse":true,"nice":false,"zero":false}}}},
{"data":{"values":[{"t":"(d)","x":-84,"p":65}]},"mark":{"type":"text","fontSize":28,"color":"#333","font":"Liberation Serif"},"encoding":{"text":{"field":"t"},"x":{"field":"x","type":"quantitative","axis":null,"scale":{"domain":[0,360],"nice":false,"zero":false}},"y":{"field":"p","type":"quantitative","axis":null,"scale":{"domain":[50,1000],"reverse":true,"nice":false,"zero":false}}}}]},
{"width":278,"height":410,"view":{"fill":"#0071BC","stroke":"#222"},"resolve":{"axis":{"x":"independent","y":"independent"}},"layer":[
{"data":{"name":"spd"},"transform":[{"window":[{"op":"row_number","as":"i"}]}],"mark":{"type":"line","filled":true,"strokeWidth":0},"encoding":{"order":{"field":"i","type":"quantitative"},"detail":{"field":"g"},"fill":{"field":"f","type":"ordinal","legend":null,"scale":{"domain":[0,1,2,3,4,5,6,7],"range":["#0071BC","#00ABE3","#43C5EF","#9FD9EE","#D8EBF1","#F2EFC7","#F1847A","#AF3346"]}},"x":{"field":"x","type":"quantitative","scale":{"domain":[0,80],"nice":false,"zero":false},"axis":{"values":[0,20,40,60,80],"title":"Wind Speed (m s⁻¹)","orient":"bottom"}},"y":{"field":"p","type":"quantitative","scale":{"domain":[50,1000],"reverse":true,"nice":false,"zero":false},"axis":{"values":[50,200,400,600,800,1000],"labels":false,"title":null,"orient":"left"}}}},
{"data":{"name":"sSpd"},"mark":{"type":"rule","color":"white","opacity":0.2,"strokeWidth":1},"encoding":{"x":{"field":"a","type":"quantitative","scale":{"domain":[0,80],"nice":false,"zero":false},"axis":{"values":[0,20,40,60,80],"labels":false,"title":null,"orient":"top"}},"x2":{"field":"b"},"y":{"field":"c","type":"quantitative","scale":{"domain":[50,1000],"reverse":true,"nice":false,"zero":false},"axis":{"values":[50,200,400,600,800,1000],"labels":false,"title":null,"orient":"right"}},"y2":{"field":"d"}}},
{"data":{"name":"lnE"},"transform":[{"window":[{"op":"row_number","as":"i"}]}],"mark":{"type":"line","color":"black","strokeWidth":6.6,"strokeCap":"butt"},"encoding":{"order":{"field":"i","type":"quantitative"},"detail":{"field":"s"},"x":{"field":"x","type":"quantitative","axis":null,"scale":{"domain":[0,80],"nice":false,"zero":false}},"y":{"field":"p","type":"quantitative","axis":null,"scale":{"domain":[50,1000],"reverse":true,"nice":false,"zero":false}}}},
{"data":{"name":"lnE"},"transform":[{"window":[{"op":"row_number","as":"i"}]}],"mark":{"type":"line","strokeWidth":3.8,"strokeCap":"butt"},"encoding":{"order":{"field":"i","type":"quantitative"},"stroke":{"field":"s","type":"nominal","legend":null,"scale":{"domain":["Continental","Mixed","Oceanic"],"range":["#77AC30","#EDB120","#4DBEEE"]}},"x":{"field":"x","type":"quantitative","axis":null,"scale":{"domain":[0,80],"nice":false,"zero":false}},"y":{"field":"p","type":"quantitative","axis":null,"scale":{"domain":[50,1000],"reverse":true,"nice":false,"zero":false}}}},
{"data":{"values":[{"t":"(e)","x":-8.6,"p":65}]},"mark":{"type":"text","fontSize":28,"color":"#333","font":"Liberation Serif"},"encoding":{"text":{"field":"t"},"x":{"field":"x","type":"quantitative","axis":null,"scale":{"domain":[0,80],"nice":false,"zero":false}},"y":{"field":"p","type":"quantitative","axis":null,"scale":{"domain":[50,1000],"reverse":true,"nice":false,"zero":false}}}}]},
{"width":278,"height":410,"view":{"fill":"#0071BC","stroke":"#222"},"resolve":{"axis":{"x":"independent","y":"independent"}},"layer":[
{"data":{"name":"mix"},"transform":[{"window":[{"op":"row_number","as":"i"}]}],"mark":{"type":"line","filled":true,"strokeWidth":0},"encoding":{"order":{"field":"i","type":"quantitative"},"detail":{"field":"g"},"fill":{"field":"f","type":"ordinal","legend":null,"scale":{"domain":[0,1,2,3,4,5,6,7],"range":["#0071BC","#00ABE3","#43C5EF","#9FD9EE","#D8EBF1","#F2EFC7","#F1847A","#AF3346"]}},"x":{"field":"x","type":"quantitative","scale":{"domain":[0,18],"nice":false,"zero":false},"axis":{"values":[0,2,4,6,8,10,12,14,16,18],"title":"Mixing Ratio (g kg⁻¹)","orient":"bottom"}},"y":{"field":"p","type":"quantitative","scale":{"domain":[50,1000],"reverse":true,"nice":false,"zero":false},"axis":{"values":[50,200,400,600,800,1000],"labels":false,"title":null,"orient":"left"}}}},
{"data":{"name":"sMix"},"mark":{"type":"rule","color":"white","opacity":0.2,"strokeWidth":1},"encoding":{"x":{"field":"a","type":"quantitative","scale":{"domain":[0,18],"nice":false,"zero":false},"axis":{"values":[0,2,4,6,8,10,12,14,16,18],"labels":false,"title":null,"orient":"top"}},"x2":{"field":"b"},"y":{"field":"c","type":"quantitative","scale":{"domain":[50,1000],"reverse":true,"nice":false,"zero":false},"axis":{"values":[50,200,400,600,800,1000],"title":"Height (km)","titleAngle":270,"titlePadding":34,"labelPadding":7,"orient":"right","labelExpr":"datum.value==50?'20':datum.value==200?'12':datum.value==400?'7.5':datum.value==600?'4.3':datum.value==800?'2':'0'"}},"y2":{"field":"d"}}},
{"data":{"values":[{"a":0,"b":18,"p":400}]},"mark":{"type":"rule","color":"#C8C8C8","strokeDash":[10,6],"strokeWidth":1.2},"encoding":{"x":{"field":"a","type":"quantitative","axis":null,"scale":{"domain":[0,18],"nice":false,"zero":false}},"x2":{"field":"b"},"y":{"field":"p","type":"quantitative","axis":null,"scale":{"domain":[50,1000],"reverse":true,"nice":false,"zero":false}}}},
{"data":{"name":"dashFc"},"transform":[{"window":[{"op":"row_number","as":"i"}]}],"mark":{"type":"line","color":"#77AC30","strokeDash":[9,11],"strokeWidth":2.6,"strokeCap":"butt"},"encoding":{"order":{"field":"i","type":"quantitative"},"x":{"field":"x","type":"quantitative","axis":null,"scale":{"domain":[0,18],"nice":false,"zero":false}},"y":{"field":"p","type":"quantitative","axis":null,"scale":{"domain":[50,1000],"reverse":true,"nice":false,"zero":false}}}},
{"data":{"name":"dashFo"},"transform":[{"window":[{"op":"row_number","as":"i"}]}],"mark":{"type":"line","color":"#4DBEEE","strokeDash":[9,11],"strokeWidth":2.6,"strokeCap":"butt"},"encoding":{"order":{"field":"i","type":"quantitative"},"x":{"field":"x","type":"quantitative","axis":null,"scale":{"domain":[0,18],"nice":false,"zero":false}},"y":{"field":"p","type":"quantitative","axis":null,"scale":{"domain":[50,1000],"reverse":true,"nice":false,"zero":false}}}},
{"data":{"name":"lnF"},"transform":[{"window":[{"op":"row_number","as":"i"}]}],"mark":{"type":"line","color":"black","strokeWidth":6.6,"strokeCap":"butt"},"encoding":{"order":{"field":"i","type":"quantitative"},"detail":{"field":"s"},"x":{"field":"x","type":"quantitative","axis":null,"scale":{"domain":[0,18],"nice":false,"zero":false}},"y":{"field":"p","type":"quantitative","axis":null,"scale":{"domain":[50,1000],"reverse":true,"nice":false,"zero":false}}}},
{"data":{"values":[{"a":6.15,"b":16.9,"c":86,"d":267}]},"mark":{"type":"rect","fill":"white","stroke":"#222","strokeWidth":1.2},"encoding":{"x":{"field":"a","type":"quantitative","axis":null,"scale":{"domain":[0,18],"nice":false,"zero":false}},"x2":{"field":"b"},"y":{"field":"c","type":"quantitative","axis":null,"scale":{"domain":[50,1000],"reverse":true,"nice":false,"zero":false}},"y2":{"field":"d"}}},
{"data":{"name":"lnF"},"transform":[{"window":[{"op":"row_number","as":"i"}]}],"mark":{"type":"line","strokeWidth":3.8,"strokeCap":"butt"},"encoding":{"order":{"field":"i","type":"quantitative"},"stroke":{"field":"s","type":"nominal","scale":{"domain":["Continental","Mixed","Oceanic"],"range":["#77AC30","#EDB120","#4DBEEE"]},"legend":{"orient":"none","legendX":115,"legendY":16.3,"zindex":1,"title":null,"symbolType":"M-2,0L2,0","symbolSize":576,"symbolStrokeWidth":3.5,"labelFont":"Liberation Serif","labelFontSize":21,"labelColor":"#333","labelOffset":15,"padding":0,"rowPadding":0}},"x":{"field":"x","type":"quantitative","axis":null,"scale":{"domain":[0,18],"nice":false,"zero":false}},"y":{"field":"p","type":"quantitative","axis":null,"scale":{"domain":[50,1000],"reverse":true,"nice":false,"zero":false}}}},
{"data":{"values":[{"t":"(f)","x":-1.94,"p":65}]},"mark":{"type":"text","fontSize":28,"color":"#333","font":"Liberation Serif"},"encoding":{"text":{"field":"t"},"x":{"field":"x","type":"quantitative","axis":null,"scale":{"domain":[0,18],"nice":false,"zero":false}},"y":{"field":"p","type":"quantitative","axis":null,"scale":{"domain":[50,1000],"reverse":true,"nice":false,"zero":false}}}}]}
]},
{"width":904,"height":30,"layer":[
{"data":{"values":[{"a":0,"b":0.02,"f":0,"u":0,"v":1},{"a":0.02,"b":0.04,"f":1,"u":0,"v":1},{"a":0.04,"b":0.06,"f":2,"u":0,"v":1},{"a":0.06,"b":0.08,"f":3,"u":0,"v":1},{"a":0.08,"b":0.1,"f":4,"u":0,"v":1},{"a":0.1,"b":0.15,"f":5,"u":0,"v":1},{"a":0.15,"b":0.2,"f":6,"u":0,"v":1},{"a":0.2,"b":0.21,"f":7,"u":0,"v":1}]},"mark":{"type":"rect"},"encoding":{"x":{"field":"a","type":"quantitative","scale":{"domain":[-0.01024,0.21],"nice":false,"zero":false},"axis":{"values":[0,0.02,0.04,0.06,0.08,0.1,0.15,0.2],"format":".2~f","title":"Frequency","titleX":472,"titleFontSize":27,"titlePadding":9,"domain":false,"ticks":false,"labelPadding":8,"orient":"bottom"}},"x2":{"field":"b"},"y":{"field":"u","type":"quantitative","axis":null,"scale":{"domain":[0,1.875],"nice":false,"zero":false}},"y2":{"field":"v"},"fill":{"field":"f","type":"ordinal","legend":null,"scale":{"domain":[0,1,2,3,4,5,6,7],"range":["#0071BC","#00ABE3","#43C5EF","#9FD9EE","#D8EBF1","#F2EFC7","#F1847A","#AF3346"]}}}},
{"data":{"values":[{"a":0,"b":0.21,"u":0,"v":1}]},"mark":{"type":"rect","fill":null,"stroke":"#111","strokeWidth":1.2},"encoding":{"x":{"field":"a","type":"quantitative"},"x2":{"field":"b"},"y":{"field":"u","type":"quantitative"},"y2":{"field":"v"}}}
]}
]}
